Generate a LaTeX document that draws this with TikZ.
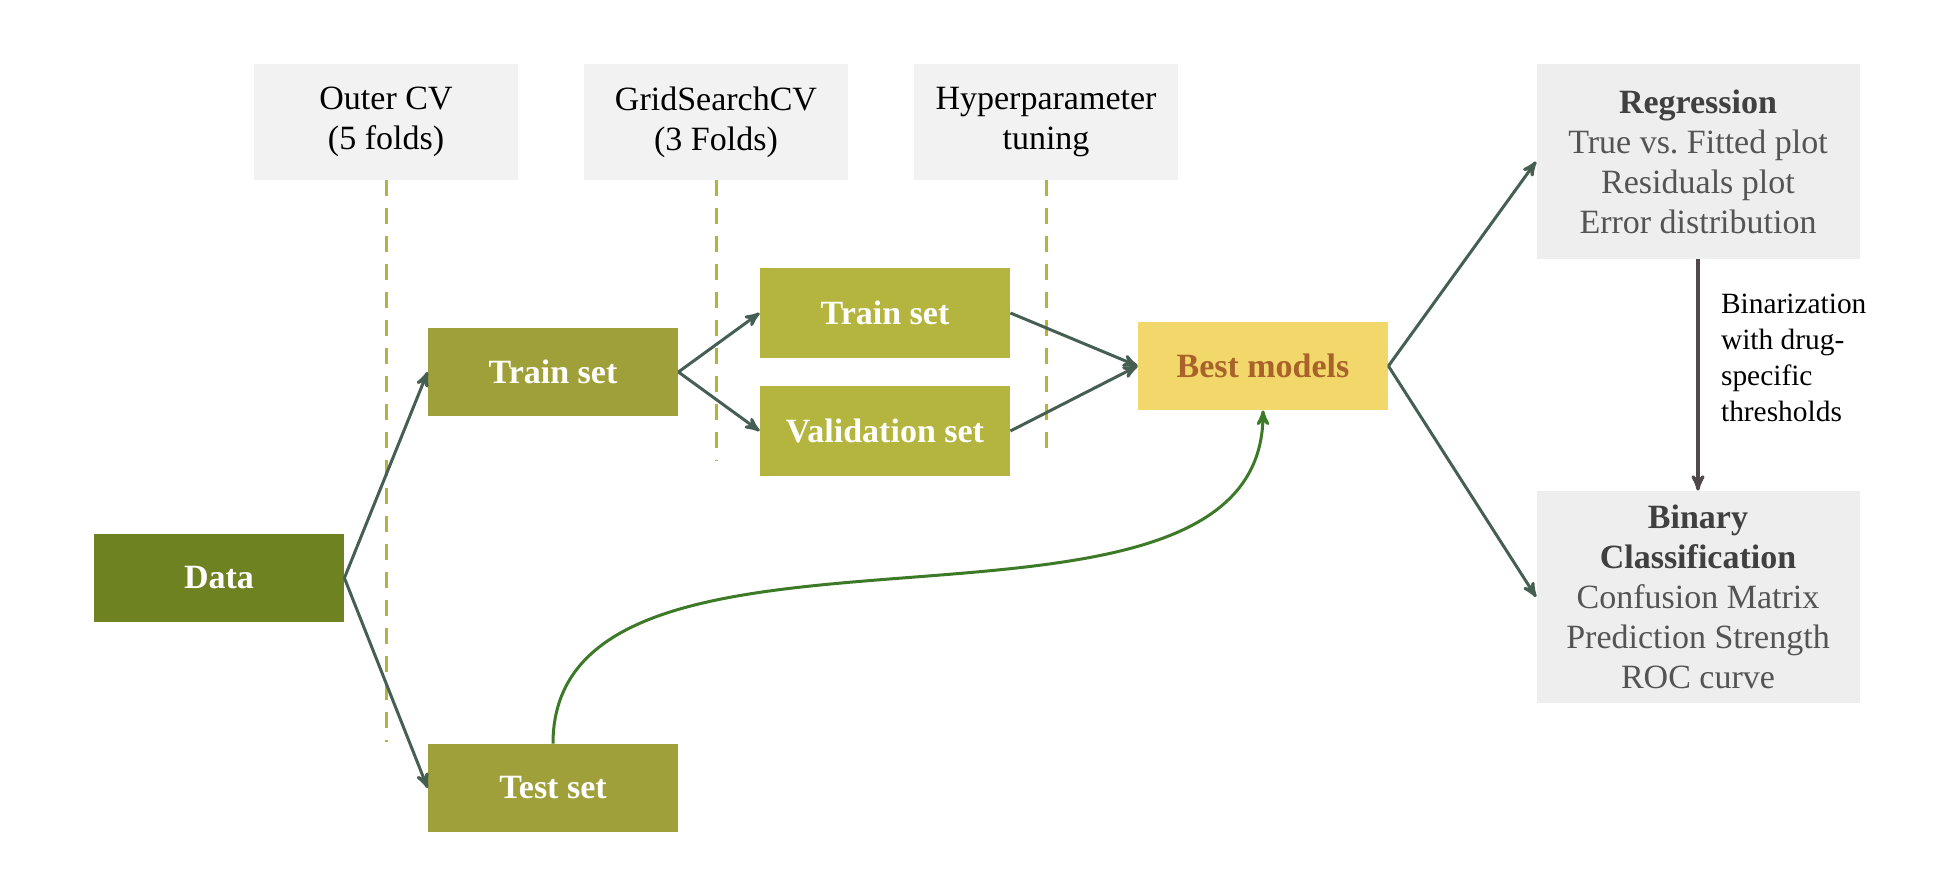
\documentclass[tikz,border=0pt]{standalone}
\usepackage{fontspec}
\setmainfont{Liberation Serif}
\usepackage{tikz}
\usetikzlibrary{arrows,positioning}
\definecolor{dataolive}{RGB}{111,130,33}
\definecolor{setolive}{RGB}{160,160,58}
\definecolor{innerolive}{RGB}{180,181,63}
\definecolor{bestyellow}{RGB}{242,216,107}
\definecolor{bestbrown}{RGB}{168,98,42}
\definecolor{cvgray}{RGB}{242,242,242}
\definecolor{evalgray}{RGB}{238,238,238}
\definecolor{evaltext}{RGB}{84,84,84}
\definecolor{evaltitle}{RGB}{64,64,64}
\definecolor{foldline}{RGB}{180,180,60}
\definecolor{flowline}{RGB}{69,96,82}
\definecolor{testline}{RGB}{61,122,40}
\definecolor{binline}{RGB}{80,72,75}
\tikzset{
  %Define standard arrow tip
  >=stealth',
  %Define style for the data split boxes
  setbox/.style={
    rectangle,
    fill=setolive,
    text=white,
    minimum width=125pt,
    minimum height=44pt,
    font=\bfseries\fontsize{17}{20}\selectfont},
  % header boxes of the cv levels
  cvbox/.style={
    rectangle,
    fill=cvgray,
    minimum width=132pt,
    minimum height=58pt,
    align=center,
    font=\fontsize{17}{20}\selectfont},
  % evaluation boxes
  evalbox/.style={
    rectangle,
    fill=evalgray,
    text=evaltext,
    minimum width=161.5pt,
    align=center,
    font=\fontsize{17}{20}\selectfont},
  % Define arrow style
  flow/.style={
    ->,
    draw=flowline,
    line width=1.5pt},
  % dashed fold separators
  fold/.style={
    draw=foldline,
    line width=1.5pt,
    dash pattern=on 8pt off 6pt}
}

\begin{document}
\begin{tikzpicture}[x=0.5pt,y=-0.5pt]
  \useasboundingbox (0,0) rectangle (1950,882);
  % cv levels
  \node[cvbox] (outer) at (386,122) {Outer CV\\(5 folds)};
  \node[cvbox] (grid) at (716,122) {GridSearchCV\\(3 Folds)};
  \node[cvbox] (hyper) at (1046,122) {Hyperparameter\\tuning};
  \coordinate (outerend) at (386,742);
  \coordinate (gridend) at (716,461);
  \coordinate (hyperend) at (1046,450);
  \draw[fold] (outer) -- (outerend);
  \draw[fold] (grid) -- (gridend);
  \draw[fold] (hyper) -- (hyperend);
  % data splits
  \node[setbox, fill=dataolive] (data) at (219,578) {Data};
  \node[setbox] (train) at (553,372) {Train set};
  \node[setbox] (test) at (553,788) {Test set};
  \node[setbox, fill=innerolive, minimum height=45pt] (intrain) at (885,313) {Train set};
  \node[setbox, fill=innerolive, minimum height=45pt] (valid) at (885,431) {Validation set};
  \node[setbox, fill=bestyellow, text=bestbrown] (best) at (1263,366) {Best models};
  % evaluation
  \node[evalbox, minimum height=97.5pt] (regr) at (1698,161.5)
    {\textcolor{evaltitle}{\textbf{Regression}}\\True vs.\ Fitted plot\\Residuals plot\\Error distribution};
  \node[evalbox, minimum height=106pt] (binary) at (1698,597)
    {\textcolor{evaltitle}{\textbf{Binary}}\\\textcolor{evaltitle}{\textbf{Classification}}\\Confusion Matrix\\Prediction Strength\\ROC curve};
  \node[anchor=west, align=left, font=\fontsize{14.7}{18}\selectfont] (binlabel) at (1714,358)
    {Binarization\\with drug-\\specific\\thresholds};
  \draw[flow] (data.east) -- (train.west);
  \draw[flow] (data.east) -- (test.west);
  \draw[flow] (train.east) -- (intrain.west);
  \draw[flow] (train.east) -- (valid.west);
  \draw[flow] (intrain.east) -- (best.west);
  \draw[flow] (valid.east) -- (best.west);
  \draw[flow] (best.east) -- (regr.west);
  \draw[flow] (best.east) -- (binary.west);
  \draw[->, draw=testline, line width=1.5pt] (test.north) to[out=90,in=-90,looseness=0.9] (best.south);
  \draw[->, draw=binline, line width=1.6pt] (regr) -- (binary);
\end{tikzpicture}
\end{document}
